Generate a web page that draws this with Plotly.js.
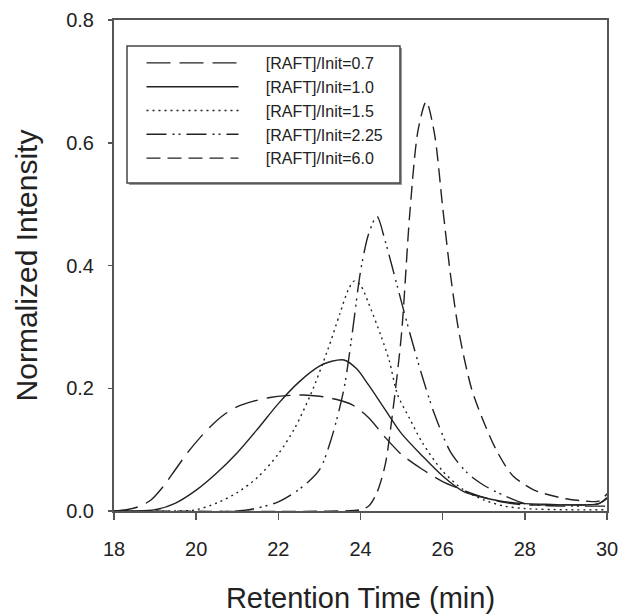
<!DOCTYPE html>
<html>
<head>
<meta charset="utf-8">
<script src="https://cdn.plot.ly/plotly-3.0.1.min.js"></script>
<style>html,body{margin:0;padding:0;background:#fff;}#chart{width:621px;height:614px;}</style>
</head>
<body>
<div id="chart"></div>
<script>
// Series names
const seriesNames = ["[RAFT]/Init=0.7", "[RAFT]/Init=1.0", "[RAFT]/Init=1.5", "[RAFT]/Init=2.25", "[RAFT]/Init=6.0"];

// [RAFT]/Init = 0.7
const x07 = [18.0, 18.3, 18.6, 18.9, 19.2, 19.5, 19.8, 20.1, 20.4, 20.7, 21.0, 21.4, 21.8, 22.2, 22.6, 23.0, 23.4, 23.8, 24.2, 24.6, 25.0, 25.5, 26.0, 26.5, 27.0, 27.5, 28.0, 28.5, 29.0, 29.5, 29.8, 30.0];
const y07 = [0.000, 0.002, 0.007, 0.018, 0.040, 0.068, 0.096, 0.120, 0.141, 0.158, 0.170, 0.179, 0.185, 0.188, 0.189, 0.187, 0.182, 0.173, 0.152, 0.120, 0.092, 0.068, 0.048, 0.034, 0.022, 0.014, 0.010, 0.010, 0.010, 0.010, 0.012, 0.022];

// [RAFT]/Init = 1.0
const x10 = [18.0, 18.5, 19.0, 19.5, 20.0, 20.5, 21.0, 21.5, 22.0, 22.5, 23.0, 23.3, 23.6, 23.9, 24.2, 24.6, 25.0, 25.5, 26.0, 26.5, 27.0, 27.5, 28.0, 28.5, 29.0, 29.5, 29.8, 30.0];
const y10 = [0.000, 0.000, 0.002, 0.013, 0.034, 0.062, 0.095, 0.134, 0.175, 0.210, 0.236, 0.244, 0.246, 0.232, 0.205, 0.165, 0.126, 0.090, 0.057, 0.032, 0.022, 0.015, 0.012, 0.011, 0.010, 0.010, 0.012, 0.020];

// [RAFT]/Init = 1.5
const x15 = [18.0, 19.5, 20.0, 20.5, 21.0, 21.5, 22.0, 22.4, 22.8, 23.2, 23.5, 23.7, 23.85, 24.0, 24.2, 24.5, 24.7, 24.9, 25.2, 25.5, 26.0, 26.5, 27.0, 27.5, 28.0, 29.0, 30.0];
const y15 = [0.000, 0.000, 0.002, 0.013, 0.030, 0.055, 0.093, 0.135, 0.192, 0.262, 0.322, 0.360, 0.375, 0.368, 0.338, 0.285, 0.245, 0.190, 0.150, 0.112, 0.065, 0.035, 0.018, 0.008, 0.004, 0.002, 0.002];

// [RAFT]/Init = 2.25
const x225 = [18.0, 21.0, 21.5, 22.0, 22.5, 23.0, 23.3, 23.6, 23.8, 24.0, 24.2, 24.4, 24.6, 24.9, 25.2, 25.5, 25.8, 26.2, 26.6, 27.0, 27.5, 28.0, 28.5, 29.0, 30.0];
const y225 = [0.000, 0.000, 0.005, 0.015, 0.035, 0.067, 0.120, 0.200, 0.290, 0.390, 0.452, 0.480, 0.440, 0.365, 0.290, 0.220, 0.158, 0.095, 0.062, 0.042, 0.025, 0.012, 0.009, 0.008, 0.008];

// [RAFT]/Init = 6.0
const x60 = [18.0, 23.5, 24.0, 24.2, 24.4, 24.6, 24.8, 25.0, 25.2, 25.4, 25.6, 25.8, 26.0, 26.2, 26.4, 26.7, 27.0, 27.3, 27.7, 28.2, 28.6, 29.0, 29.5, 29.8, 30.0];
const y60 = [0.000, 0.000, 0.002, 0.008, 0.030, 0.075, 0.170, 0.290, 0.485, 0.620, 0.667, 0.615, 0.495, 0.380, 0.290, 0.200, 0.145, 0.100, 0.058, 0.035, 0.026, 0.020, 0.016, 0.016, 0.028];

// Axis ticks
const xTicks = [18, 20, 22, 24, 26, 28, 30];
const yTicks = [0.0, 0.2, 0.4, 0.6, 0.8];
const yTickText = ["0.0", "0.2", "0.4", "0.6", "0.8"];

const lineColor = "#222222";
const dashes = ["24px,9px", "solid", "2px,4px", "20px,6px,2px,4px,2px,6px", "14px,7px"];
const xs = [x07, x10, x15, x225, x60];
const ys = [y07, y10, y15, y225, y60];
const pad = "\u00a0\u00a0\u00a0\u00a0\u00a0";

const traces = seriesNames.map((name, i) => ({
  type: "scatter",
  mode: "lines",
  name: pad + name,
  x: xs[i],
  y: ys[i],
  line: {color: lineColor, width: 1.4, dash: dashes[i], shape: "spline", smoothing: 0.8},
  hoverinfo: "skip"
}));

const fontFam = "Liberation Sans, Arial, sans-serif";

// legend frame in paper coordinates (plot area 114..607 x 20..511 px)
const lgX0 = 0.0264, lgX1 = 0.5801, lgY0 = 0.668, lgY1 = 0.947;
const sdx = 0.0041, sdy = 0.0041;

const layout = {
  width: 621,
  height: 614,
  margin: {l: 114, r: 14, t: 20, b: 103},
  paper_bgcolor: "#ffffff",
  plot_bgcolor: "#ffffff",
  font: {family: fontFam, color: "#222222"},
  showlegend: true,
  legend: {
    x: 0.0558, y: 0.947, xanchor: "left", yanchor: "top",
    bgcolor: "rgba(0,0,0,0)", borderwidth: 0,
    font: {family: fontFam, size: 16, color: "#222222"},
    itemwidth: 92,
    tracegroupgap: 0
  },
  shapes: [
    {type: "rect", xref: "paper", yref: "paper", x0: lgX0 + sdx, x1: lgX1 + sdx, y0: lgY0 - sdy, y1: lgY1 - sdy,
     fillcolor: "#9a9a9a", line: {width: 0}, layer: "above"},
    {type: "rect", xref: "paper", yref: "paper", x0: lgX0, x1: lgX1, y0: lgY0, y1: lgY1,
     fillcolor: "#ffffff", line: {color: "#444444", width: 1.5}, layer: "above"}
  ],
  xaxis: {
    range: [18, 30],
    tickvals: xTicks,
    ticktext: xTicks.map(String),
    ticks: "outside", ticklen: 7, tickwidth: 1.5, tickcolor: "#555555",
    showline: true, linecolor: "#555555", linewidth: 2, mirror: true,
    showgrid: false, zeroline: false,
    tickfont: {family: fontFam, size: 20, color: "#222222"},
    ticklabelstandoff: 12,
    title: {text: "Retention Time (min)", font: {family: fontFam, size: 29, color: "#222222"}, standoff: 29}
  },
  yaxis: {
    range: [0, 0.8],
    tickvals: yTicks,
    ticktext: yTickText,
    ticks: "outside", ticklen: 4, tickwidth: 1.5, tickcolor: "#555555",
    showline: true, linecolor: "#555555", linewidth: 2, mirror: true,
    showgrid: false, zeroline: false,
    tickfont: {family: fontFam, size: 20, color: "#222222"},
    ticklabelstandoff: 10,
    title: {text: "Normalized Intensity", font: {family: fontFam, size: 30, color: "#222222"}, standoff: 20}
  }
};

Plotly.newPlot("chart", traces, layout, {staticPlot: true, displayModeBar: false});
</script>
</body>
</html>
